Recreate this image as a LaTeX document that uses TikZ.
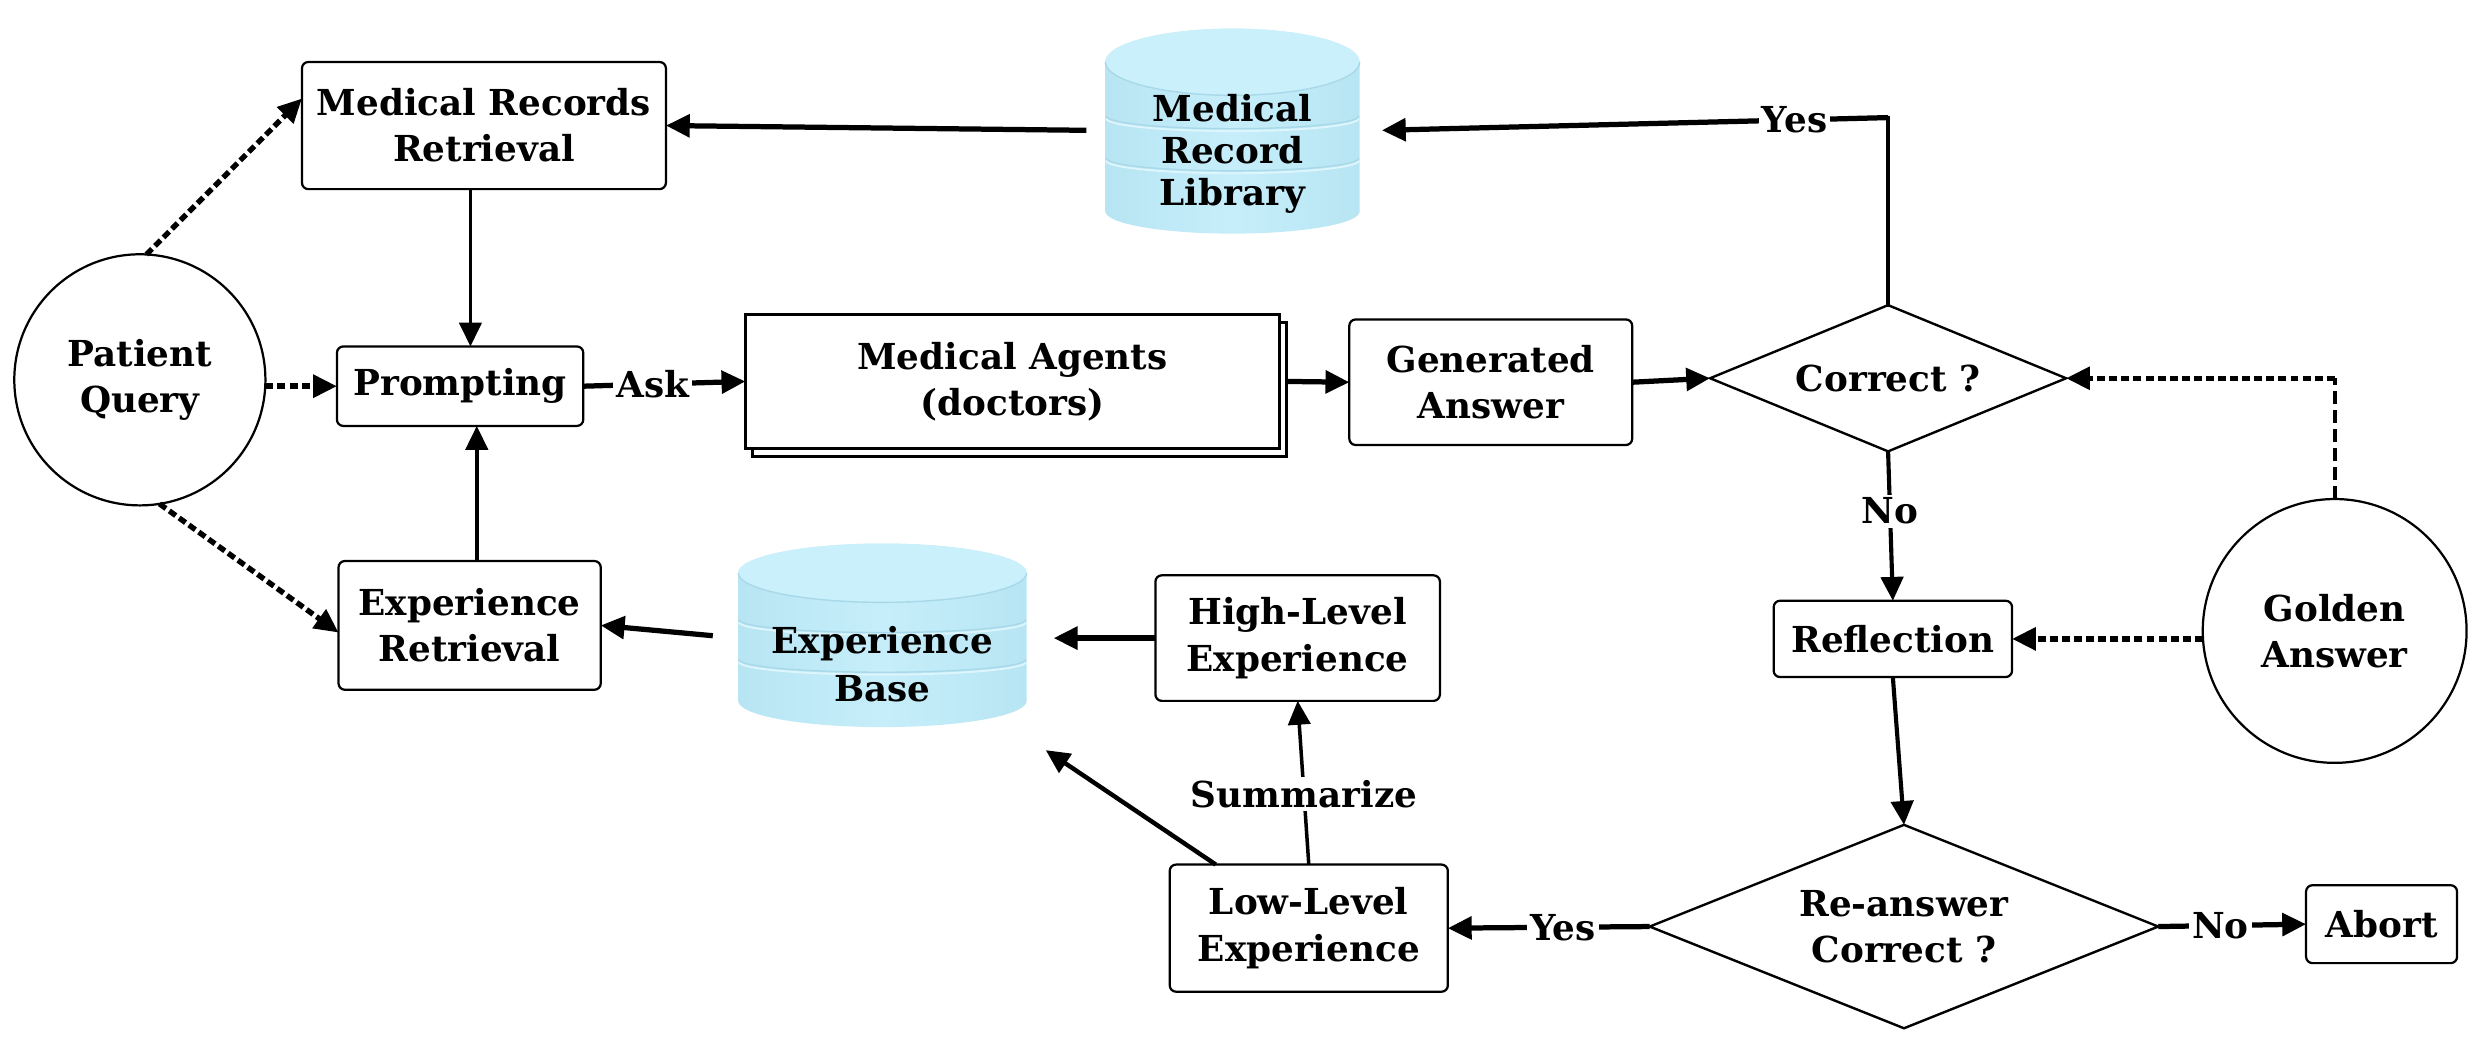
\documentclass[tikz,border=0pt]{standalone}
\usepackage{fontspec}
\setmainfont{DejaVu Serif}
\usetikzlibrary{arrows.meta,shapes.geometric,shadows,calc}
\definecolor{cylside}{HTML}{B8E5F3}
\definecolor{cylmid}{HTML}{C6EEFA}
\definecolor{cyltop}{HTML}{CAF0FC}
\definecolor{cylline}{HTML}{A9D9E9}
\definecolor{cylhi}{HTML}{DDF5FC}
\begin{document}
\begin{tikzpicture}[x=1pt,y=-1pt,
  every node/.style={font=\fontsize{22.5}{29}\selectfont\bfseries, align=center, inner sep=0pt, outer sep=0pt},
  box/.style={draw, line width=1.4pt, rounded corners=4pt, fill=white},
  circ/.style={draw, circle, line width=1.4pt, fill=white},
  dia/.style={draw, diamond, line width=1.5pt, shape aspect=2.4, fill=white},
  lab/.style={fill=white, inner sep=2pt},
  tip/.style={-{Triangle[length=15pt,width=14pt]}},
  thinarr/.style={line width=2.2pt, tip},
  midarr/.style={line width=2.8pt, tip},
  thickarr/.style={line width=3.3pt, tip},
  dasharr/.style={line width=3.4pt, dash pattern=on 5pt off 2.6pt, tip},
  longdash/.style={line width=2.4pt, dash pattern=on 8pt off 4pt},
  cylsegment/.style={draw=cylline, line width=0.9pt},
  cylshine/.style={draw=cylhi, line width=1.2pt},
  ]
\fill[white] (0,0) rectangle (1568,663);
\path[use as bounding box] (0,0) rectangle (1568,663);

% ---- Medical Record Library cylinder
\shade[left color=cylside, right color=cylside, middle color=cylmid]
  (695.5,39) -- (695.5,133) arc[start angle=180,end angle=0,x radius=80,y radius=14]
  -- (855.5,39) arc[start angle=360,end angle=180,x radius=80,y radius=21] -- cycle;
\fill[cyltop] (775.5,39) ellipse[x radius=80,y radius=21];
\draw[cylsegment] (695.5,39) arc[start angle=180,end angle=0,x radius=80,y radius=21];
\draw[cylshine] (696,74.5) arc[start angle=180,end angle=0,x radius=79.5,y radius=8];
\draw[cylsegment] (696,73) arc[start angle=180,end angle=0,x radius=79.5,y radius=8];
\draw[cylshine] (696,101) arc[start angle=180,end angle=0,x radius=79.5,y radius=8];
\draw[cylsegment] (696,99.5) arc[start angle=180,end angle=0,x radius=79.5,y radius=8];

% ---- Experience Base cylinder
\shade[left color=cylside, right color=cylside, middle color=cylmid]
  (464.5,360.5) -- (464.5,441) arc[start angle=180,end angle=0,x radius=90.75,y radius=16.5]
  -- (646,360.5) arc[start angle=360,end angle=180,x radius=90.75,y radius=18.5] -- cycle;
\fill[cyltop] (555.25,360.5) ellipse[x radius=90.75,y radius=18.5];
\draw[cylsegment] (464.5,360.5) arc[start angle=180,end angle=0,x radius=90.75,y radius=18.5];
\draw[cylshine] (465,391.5) arc[start angle=180,end angle=0,x radius=90.25,y radius=8];
\draw[cylsegment] (465,390) arc[start angle=180,end angle=0,x radius=90.25,y radius=8];
\draw[cylshine] (465,416.5) arc[start angle=180,end angle=0,x radius=90.25,y radius=8];
\draw[cylsegment] (465,415) arc[start angle=180,end angle=0,x radius=90.25,y radius=8];

% ---- nodes
\node[minimum width=160pt, minimum height=130pt] (mrlc) at (775.5,82) {};
\node[font=\fontsize{22.5}{26.5}\selectfont\bfseries] (mrl) at (775.5,97) {Medical\\Record\\Library};
\node[minimum width=181.5pt, minimum height=116pt] (ebc) at (555.25,400) {};
\node[font=\fontsize{22.5}{30}\selectfont\bfseries] (eb) at (555.25,418) {Experience\\Base};

\node[circ, minimum size=158pt] (pq) at (88,239) {Patient\\Query};
\node[box, minimum width=229pt, minimum height=80pt] (mrr) at (304.5,79) {Medical Records\\Retrieval};
\node[box, minimum width=155pt, minimum height=50pt] (pr) at (289.5,243) {Prompting};
\node[box, minimum width=165pt, minimum height=81pt] (er) at (295.5,393.5) {Experience\\Retrieval};
\node[draw, line width=1.9pt, fill=white, minimum width=336pt, minimum height=84pt,
      copy shadow={shadow xshift=4.5pt, shadow yshift=-5pt, line width=1.9pt}] (ma) at (637,240) {Medical Agents\\(doctors)};
\node[box, minimum width=178pt, minimum height=79pt] (ga) at (938,240.5) {Generated\\Answer};
\node[dia, minimum width=224pt, minimum height=92pt] (c1) at (1188,238) {Correct ?};
\node[box, minimum width=150pt, minimum height=48pt] (refl) at (1191,402) {Reflection};
\node[circ, minimum size=166pt] (gold) at (1469,397) {Golden\\Answer};
\node[dia, minimum width=320pt, minimum height=128pt] (c2) at (1198,583) {Re-answer\\Correct ?};
\node[box, minimum width=95pt, minimum height=49pt] (abort) at (1498.5,581.5) {Abort};
\node[box, minimum width=175pt, minimum height=80pt] (ll) at (823.5,584) {Low-Level\\Experience};
\node[box, minimum width=179pt, minimum height=79pt] (hl) at (816.5,401.5) {High-Level\\Experience};

% ---- connectors
\draw[thickarr] ([xshift=-12pt]mrlc.west) -- (mrr.east);
\draw[thinarr] ([xshift=-8.5pt]mrr.south) -- ([xshift=-8.5pt]mrr.south |- pr.north);
\draw[thinarr] ([xshift=4.5pt]er.north) -- ([xshift=4.5pt]er.north |- pr.south);
\draw[dasharr] (pq.87) -- ([yshift=17pt]mrr.west);
\draw[dasharr] (pq.east |- pr.west) -- (pr.west);
\draw[dasharr] (pq.-81) -- ([yshift=-4.5pt]er.west);
\draw[thickarr] (pr.east) -- node[lab, pos=0.43]{Ask} (ma.west);
\draw[thickarr] ([xshift=4.5pt]ma.east) -- (ga.west);
\draw[thickarr] (ga.east) -- (c1.west);
\coordinate (yc) at ([yshift=118pt]c1.north);
\draw[line width=2.4pt, line cap=rect] (c1.north) -- (yc);
\draw[thickarr] (yc) -- node[lab, pos=0.185]{Yes} ([xshift=14pt]mrlc.east);
\draw[thinarr, line width=2.6pt] (c1.south) -- node[lab, pos=0.4]{No} (refl.north);
\coordinate (gc) at (gold.north |- c1.east);
\draw[longdash] (gold.north) -- (gc);
\draw[dasharr] (gc) -- (c1.east);
\draw[dasharr] (gold.west |- refl.east) -- (refl.east);
\draw[thinarr, line width=2.6pt] (refl.south) -- (c2.north);
\draw[thickarr] (c2.east) -- node[lab, pos=0.42]{No} (abort.west);
\draw[thickarr] (c2.west) -- node[lab, pos=0.43]{Yes} (ll.east);
\draw[thinarr] (ll.north) -- node[lab, pos=0.43]{Summarize} (hl.south);
\draw[midarr] ([xshift=-58.5pt]ll.north) -- ([xshift=12pt,yshift=-14pt]ebc.south east);
\draw[thickarr] (hl.west) -- ([xshift=17pt]ebc.east |- hl.west);
\draw[thickarr] ([xshift=-16pt]ebc.west) -- (er.east);
\end{tikzpicture}
\end{document}
